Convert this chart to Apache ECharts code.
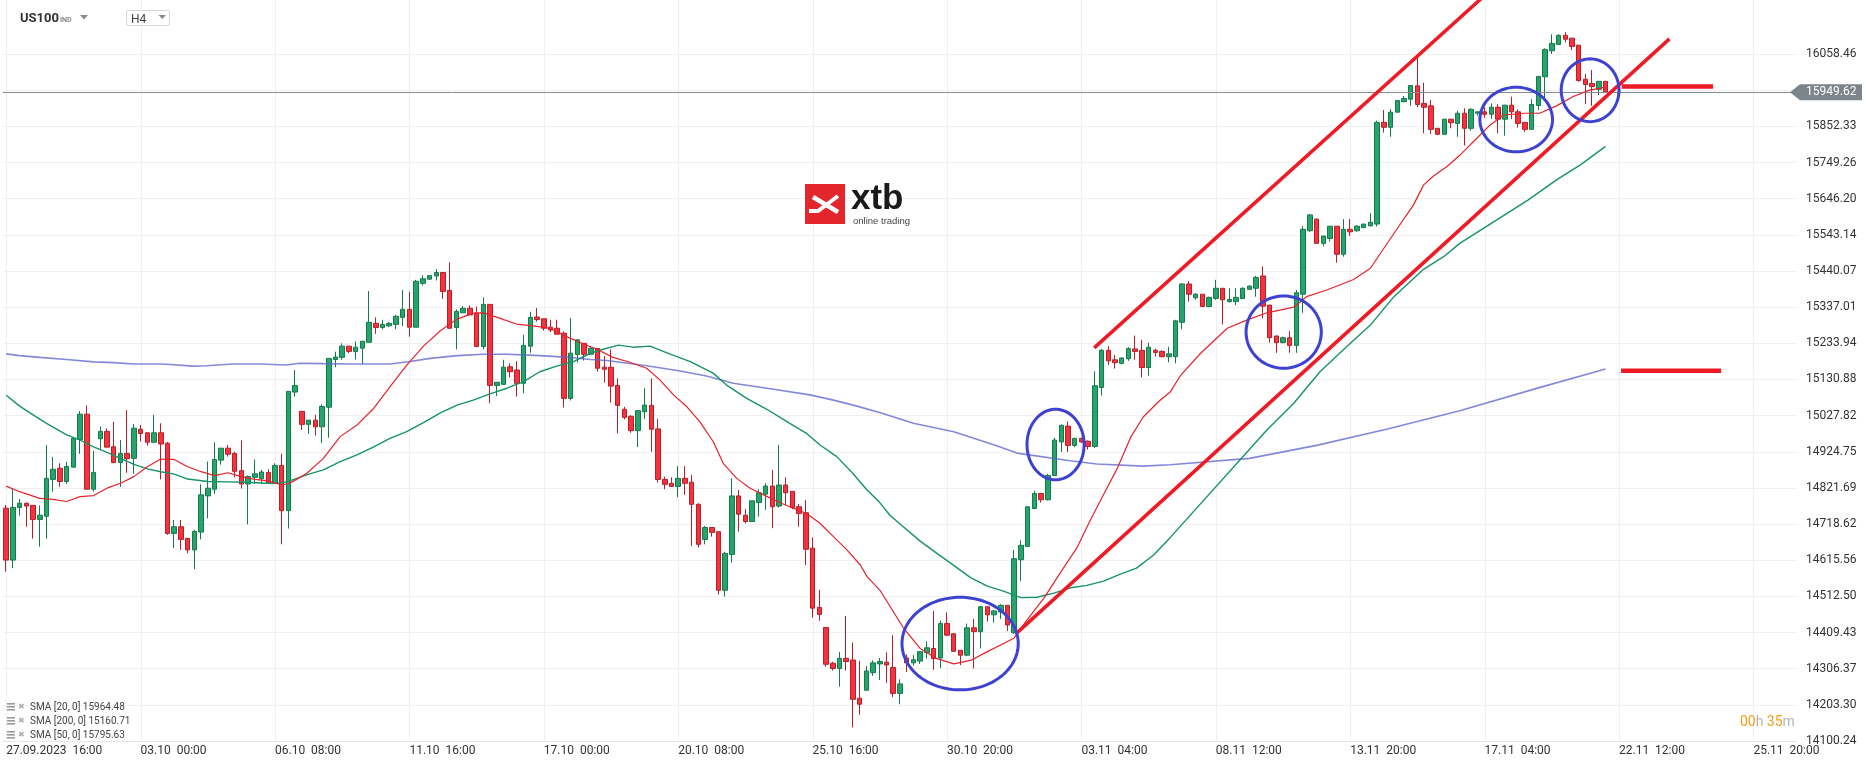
<!DOCTYPE html>
<html><head><meta charset="utf-8">
<script src="https://cdn.jsdelivr.net/npm/echarts@6/dist/echarts.min.js"></script>
<style>html,body{margin:0;padding:0;background:#fff;}#c{width:1866px;height:767px;}</style>
</head><body><div id="c"></div>
<script>
// ---------- DATA ----------
const xLabels = ['27.09.2023  16:00','03.10  00:00','06.10  08:00','11.10  16:00','17.10  00:00','20.10  08:00','25.10  16:00','30.10  20:00','03.11  04:00','08.11  12:00','13.11  20:00','17.11  04:00','22.11  12:00','25.11  20:00'];
const yTicks = [14100.24,14203.30,14306.37,14409.43,14512.50,14615.56,14718.62,14821.69,14924.75,15027.82,15130.88,15233.94,15337.01,15440.07,15543.14,15646.20,15749.26,15852.33,15955.39,16058.46];
const yLabelValues = [14100.24,14203.30,14306.37,14409.43,14512.50,14615.56,14718.62,14821.69,14924.75,15027.82,15130.88,15233.94,15337.01,15440.07,15543.14,15646.20,15749.26,15852.33,16058.46];
// [open, high, low, close], H4 candles
const candles = [
[14764,14773,14583,14616],[14616,14818,14593,14766],[14766,14790,14743,14778],[14778,14780,14711,14770],[14772,14772,14677,14732],
[14732,14772,14654,14744],[14741,14944,14677,14849],[14846,14910,14811,14875],[14878,14892,14825,14840],[14840,14896,14833,14883],
[14881,14963,14880,14963],[14960,15041,14919,15032],[15032,15057,14818,14818],[14818,14927,14811,14866],[14962,14997,14933,14983],
[14983,14991,14938,14938],[14939,15010,14892,14894],[14894,14958,14825,14920],[14920,15044,14865,14905],[14906,15004,14862,14992],
[14989,15001,14954,14977],[14979,14979,14942,14952],[14952,15030,14952,14979],[14979,15006,14846,14947],[14949,14953,14688,14692],
[14692,14730,14650,14711],[14711,14730,14645,14675],[14678,14678,14635,14645],[14645,14702,14590,14698],[14696,14832,14675,14802],
[14799,14897,14735,14821],[14818,14952,14805,14903],[14901,14935,14888,14935],[14935,14944,14911,14918],[14920,14925,14852,14869],
[14871,14957,14820,14833],[14833,14857,14718,14854],[14852,14903,14833,14862],[14848,14873,14833,14867],[14866,14875,14835,14835],
[14835,14892,14835,14886],[14886,14919,14661,14757],[14757,15097,14706,15097],[15095,15158,15082,15114],[15040,15040,14987,15003],
[15003,15015,14976,15015],[15015,15030,14971,14996],[14996,15060,14949,15054],[15052,15191,14965,15191],[15188,15210,15166,15195],
[15194,15234,15187,15226],[15226,15226,15206,15211],[15211,15239,15188,15223],[15220,15240,15175,15240],[15237,15383,15237,15294],
[15291,15308,15261,15279],[15279,15301,15274,15288],[15284,15295,15280,15291],[15288,15315,15274,15311],[15308,15386,15283,15331],
[15331,15381,15253,15280],[15280,15415,15280,15411],[15405,15428,15399,15418],[15417,15427,15415,15427],[15426,15446,15413,15436],
[15436,15436,15361,15382],[15385,15465,15277,15277],[15279,15331,15217,15325],[15321,15340,15321,15334],[15334,15342,15315,15315],
[15320,15339,15225,15225],[15225,15365,15217,15345],[15345,15345,15063,15114],[15114,15123,15084,15123],[15117,15187,15117,15166],
[15167,15177,15137,15153],[15158,15183,15082,15120],[15120,15258,15092,15228],[15226,15324,15207,15308],[15309,15335,15296,15302],
[15304,15304,15270,15277],[15280,15301,15266,15272],[15277,15301,15260,15260],[15263,15268,15051,15077],[15077,15306,15071,15206],
[15202,15246,15179,15244],[15234,15234,15185,15203],[15203,15225,15201,15220],[15219,15219,15153,15163],[15166,15198,15122,15160],
[15166,15217,15065,15112],[15114,15134,14977,15057],[15046,15053,15017,15023],[15026,15029,14979,14985],[14985,15042,14938,15042],
[15039,15106,15018,15058],[15057,15134,14925,14989],[14990,15018,14837,14846],[14846,14854,14818,14832],[14835,14852,14826,14826],
[14826,14884,14795,14849],[14849,14884,14802,14835],[14838,14859,14656,14775],[14775,14778,14652,14661],[14675,14713,14661,14709],
[14709,14709,14683,14695],[14697,14697,14518,14530],[14530,14640,14512,14635],[14632,14849,14609,14799],[14799,14816,14697,14747],
[14744,14762,14721,14726],[14726,14785,14726,14785],[14780,14818,14740,14808],[14804,14835,14759,14827],[14827,14873,14707,14768],
[14770,14944,14766,14830],[14830,14852,14773,14808],[14812,14812,14761,14766],[14768,14776,14711,14749],[14751,14787,14602,14647],
[14650,14681,14452,14479],[14481,14531,14443,14461],[14424,14424,14312,14319],[14322,14326,14301,14307],[14307,14354,14255,14336],
[14336,14457,14301,14327],[14331,14381,14139,14219],[14222,14329,14175,14205],[14245,14314,14245,14300],[14295,14330,14286,14323],
[14320,14337,14274,14327],[14325,14353,14266,14317],[14310,14402,14225,14236],[14236,14276,14205,14263],[14337,14347,14297,14323],
[14323,14345,14315,14332],[14328,14356,14320,14355],[14352,14384,14335,14366],[14364,14471,14303,14335],[14337,14443,14308,14435],
[14435,14467,14399,14402],[14406,14406,14355,14356],[14359,14359,14317,14345],[14345,14435,14342,14423],[14423,14448,14307,14412],
[14412,14485,14364,14483],[14483,14483,14441,14460],[14460,14473,14438,14471],[14468,14490,14448,14487],[14487,14487,14414,14431],
[14409,14645,14406,14620],[14617,14672,14556,14658],[14655,14768,14655,14768],[14763,14814,14761,14806],[14806,14806,14780,14788],
[14788,14862,14786,14857],[14857,14965,14857,14958],[14953,15003,14924,15000],[14998,15011,14924,14943],[14943,14965,14938,14963],
[14963,14965,14950,14953],[14955,14957,14931,14940],[14940,15154,14936,15113],[15108,15218,15085,15214],[15214,15226,15172,15184],
[15187,15201,15162,15179],[15177,15194,15174,15192],[15190,15223,15184,15219],[15218,15256,15187,15211],[15214,15244,15137,15165],
[15165,15236,15142,15223],[15214,15219,15196,15208],[15211,15214,15194,15196],[15196,15224,15180,15204],[15196,15301,15177,15298],
[15294,15405,15274,15403],[15403,15412,15353,15374],[15364,15377,15358,15374],[15374,15374,15337,15339],[15339,15367,15337,15365],
[15362,15415,15358,15391],[15391,15391,15288,15358],[15353,15391,15350,15359],[15353,15391,15343,15365],[15362,15393,15360,15391],
[15388,15400,15386,15397],[15391,15426,15367,15422],[15426,15453,15305,15340],[15343,15343,15236,15250],[15255,15255,15207,15236],
[15236,15253,15234,15250],[15250,15269,15207,15228],[15228,15386,15207,15378],[15374,15568,15321,15559],[15555,15603,15552,15600],
[15588,15590,15519,15519],[15519,15540,15510,15540],[15533,15568,15524,15568],[15568,15568,15464,15488],[15488,15588,15481,15559],
[15559,15588,15540,15552],[15555,15571,15552,15568],[15564,15574,15562,15574],[15569,15605,15567,15579],[15574,15869,15567,15864],
[15864,15899,15835,15850],[15850,15902,15823,15893],[15893,15928,15893,15926],[15923,15939,15921,15932],[15930,15970,15911,15969],
[15968,16050,15907,15915],[15918,15977,15833,15907],[15911,15928,15831,15844],[15847,15847,15828,15830],[15830,15873,15830,15873],
[15873,15873,15847,15863],[15861,15897,15823,15890],[15890,15904,15798,15847],[15847,15904,15840,15901],[15890,15894,15883,15894],
[15894,15907,15877,15887],[15887,15918,15874,15907],[15907,15916,15833,15873],[15873,15914,15826,15913],[15913,15937,15873,15894],
[15894,15901,15849,15861],[15864,15864,15837,15844],[15844,15930,15844,15915],[15912,15995,15899,15995],[15994,16075,15930,16072],
[16068,16115,16059,16089],[16086,16115,16086,16112],[16112,16121,16092,16101],[16104,16104,16070,16080],[16084,16084,15980,15983],
[15987,16002,15916,15972],[15975,16013,15911,15966],[15958,15981,15942,15981],[15981,15981,15949.62,15949.62]
];
// moving averages: [candle position, value]
const sma20 = [[0,14827],[2,14811],[5,14792],[7,14789],[9,14783],[11,14797],[13,14800],[15,14821],[17,14835],[19,14854],[21,14882],[23,14904],[25,14903],[27,14882],[29,14868],[31,14857],[33,14865],[35,14854],[37,14846],[39,14842],[41,14830],[42.2,14835],[43,14844],[44.7,14863],[47.2,14906],[49.7,14968],[52.2,15001],[54.7,15049],[57.1,15110],[59.6,15172],[62.1,15226],[64.6,15270],[67.1,15303],[69.5,15320],[71,15321],[73.5,15305],[75.9,15289],[78.4,15284],[80.9,15277],[83.4,15253],[85.9,15232],[87.9,15217],[90.3,15194],[92.8,15180],[95.3,15163],[97.3,15129],[99.3,15087],[101.3,15053],[103.2,15011],[105.2,14954],[106.7,14892],[108.7,14849],[110.7,14821],[112.7,14802],[115.1,14780],[117.1,14764],[119.1,14749],[121.1,14721],[123.1,14683],[125.1,14645],[127.1,14602],[128.1,14569],[130.1,14528],[131,14500],[133.5,14423],[136,14364],[138.5,14335],[141,14320],[143.5,14330],[146,14355],[148.5,14379],[150,14394],[152,14448],[154.4,14507],[156.9,14581],[159.3,14650],[161.3,14729],[163.3,14803],[165.3,14876],[167.3,14965],[169.2,15024],[171.5,15068],[173.2,15095],[174.7,15141],[177.7,15205],[181.7,15277],[184.6,15300],[187.6,15321],[191.6,15337],[193.5,15367],[196.5,15386],[200.5,15416],[203,15448],[206.5,15547],[209.4,15628],[210.9,15685],[212.4,15711],[214.4,15738],[216.3,15770],[218.8,15818],[220.8,15856],[222.8,15885],[225.8,15890],[228.2,15890],[230.7,15911],[233.1,15937],[235.6,15956],[238,15964.48]];
const sma50 = [[0,15086],[2,15055],[4,15030],[6,15006],[9,14973],[11,14958],[13,14939],[15,14923],[17,14906],[19,14889],[21,14876],[23,14868],[25,14861],[27,14847],[30,14840],[33,14839],[35.8,14838],[38.8,14835],[40.7,14835],[42.2,14842],[44.7,14859],[47.2,14873],[49.7,14897],[52.2,14916],[54.7,14939],[57.1,14963],[59.6,14982],[62.1,15008],[64.6,15036],[67.1,15058],[69.5,15072],[72,15090],[74.5,15106],[77,15125],[79.4,15153],[81.9,15169],[84.4,15182],[86.9,15205],[88.4,15215],[91.1,15229],[93.3,15223],[95.8,15226],[98.8,15203],[101.8,15182],[105.2,15149],[107.2,15115],[110.2,15077],[113.2,15046],[116.6,15006],[119.1,14977],[121.1,14944],[123.6,14911],[126,14863],[128,14818],[130,14780],[131.5,14744],[133.5,14711],[136,14670],[138.5,14635],[141,14601],[143.5,14566],[146,14542],[148.5,14527],[151,14509],[153.4,14510],[155.9,14522],[158.4,14537],[160.8,14544],[163.3,14556],[165.8,14576],[168.2,14593],[170.7,14630],[173.2,14680],[187.6,14987],[191.6,15063],[195.5,15153],[199.5,15225],[203,15286],[206.5,15367],[210.9,15445],[213.9,15481],[216.3,15519],[226.5,15643],[230.7,15700],[234.2,15742],[238,15795.63]];
const sma200 = [[0,15204],[2,15199],[5,15194],[9,15188],[13,15181],[16,15179],[19,15175],[23,15175],[25,15173],[27.8,15169],[29.8,15170],[33.8,15175],[37.8,15175],[41.7,15172],[43.7,15177],[47.2,15176],[51.2,15175],[57.1,15175],[60.1,15182],[63.1,15191],[67.1,15199],[71,15203],[74.5,15203],[77,15201],[79.4,15199],[81.9,15196],[84.4,15193],[86.9,15188],[89.4,15185],[95.3,15170],[100.3,15155],[104.2,15141],[108.2,15120],[114.2,15103],[119.6,15087],[123.1,15072],[126.6,15055],[130.1,15036],[135,15006],[141,14982],[147.4,14942],[150.4,14921],[158.3,14899],[162.3,14890],[169.2,14884],[173.2,14888],[185,14906],[195,14943],[205.4,14989],[216.3,15042],[228,15107],[238,15160.71]];
// drawn annotations in chart units: [candle position, price]
const channelUpper = [[161.9,15221],[221,16243]];
const channelLower = [[150.2,14405],[247.5,16102]];
const levelTop = [[240.4,15966],[254.0,15966]];
const levelBottom = [[240.3,15156],[255.2,15156]];
// ellipses: [from candle, to candle, low price, high price]
const ellipses = [[133.3,150.6,14246,14510],[151.9,160.4,14845,15046],[184.5,195.7,15163,15369],[219.3,230.1,15780,15964],[231.4,240.0,15866,16045]];
const lastPrice = 15949.62;
const smaLegend = [['SMA [20, 0]','15964.48'],['SMA [200, 0]','15160.71'],['SMA [50, 0]','15795.63']];
const N_CAT = 267;

// ---------- CHART ----------
const FONT = 'Roboto';
const cats = Array.from({length: N_CAT}, (_, i) => String(i));
const kData = candles.map(([o,h,l,c]) => [o, c, Math.min(l,o,c), Math.max(h,o,c)]);
const lineS = (data, color, width, z, opacity) => ({
  type:'line', xAxisIndex:1, yAxisIndex:0, data, symbol:'none', showSymbol:false, silent:true, z,
  lineStyle:{color, width, opacity: opacity==null?1:opacity}, emphasis:{disabled:true}, animation:false
});
const chart = echarts.init(document.getElementById('c'), null, {renderer:'canvas', width:1866, height:767});
const option = {
  animation:false,
  backgroundColor:'#ffffff',
  grid:{left:2.84, right:68.9, top:0, bottom:26, containLabel:false, outerBoundsMode:'none'},
  xAxis:[
    {type:'category', data:cats, boundaryGap:true,
     axisLine:{show:true, lineStyle:{color:'#e6e6e6', width:1}}, axisTick:{show:false}, splitLine:{show:false},
     axisLabel:{interval:(i)=> i%20===0, formatter:(v,i)=> xLabels[i/20]||'', align:'left', color:'#333', fontSize:12, fontFamily:FONT, margin:4}},
    {type:'value', min:-0.5, max:N_CAT-0.5, show:false}
  ],
  yAxis:[{type:'value', position:'right', min:14100.24, max:16212.8,
    axisLine:{show:false}, axisTick:{show:false, customValues:yTicks},
    splitLine:{show:true, lineStyle:{color:'#f0f0f0', width:1}},
    axisLabel:{customValues:yLabelValues, formatter:(v)=> Number(v).toFixed(2), color:'#333', fontSize:12, fontFamily:FONT, margin:9, showMinLabel:true, showMaxLabel:true}}],
  series:[
    {type:'candlestick', xAxisIndex:0, yAxisIndex:0, data:kData, barWidth:5, z:3, silent:true,
     itemStyle:{color:'#27a46b', color0:'#f7323f', borderColor:'#137a4a', borderColor0:'#b41f2a', borderWidth:1},
     emphasis:{disabled:true},
     markLine:{silent:true, symbol:'none', animation:false, label:{show:false},
       lineStyle:{color:'#828b91', width:1, type:'solid'}, data:[{yAxis:lastPrice}]}},
    lineS(sma200, '#5a62cc', 1.6, 4, 0.75),
    lineS(sma50, '#16936a', 1.4, 5),
    lineS(sma20, '#e5232a', 1.2, 6),
    lineS(channelUpper, '#ee1b24', 3.5, 8),
    lineS(channelLower, '#ee1b24', 3.5, 8),
    lineS(levelTop, '#ee1b24', 4.5, 8),
    lineS(levelBottom, '#ee1b24', 4.5, 8)
  ]
};
chart.setOption(option);

const px = (i, p) => chart.convertToPixel({xAxisIndex:1, yAxisIndex:0}, [i, p]);
const g = [];
// vertical grid lines at labelled candles
xLabels.forEach((_, k) => {
  const x = Math.round(px(k*20, 14100.24)[0]) + 0.5;
  g.push({type:'line', z:0, silent:true, shape:{x1:x, y1:0, x2:x, y2:741}, style:{stroke:'#f0f0f0', lineWidth:1}});
});
// ellipses
ellipses.forEach(([i1,i2,pl,ph]) => {
  const a = px(i1, ph), b = px(i2, pl);
  const cx = (a[0]+b[0])/2, cy = (a[1]+b[1])/2, rx = Math.abs(b[0]-a[0])/2, ry = Math.abs(b[1]-a[1])/2;
  const pts = [];
  for (let k = 0; k < 96; k++) { const t = k/96*Math.PI*2; pts.push([cx+rx*Math.cos(t), cy+ry*Math.sin(t)]); }
  g.push({type:'polygon', z:20, silent:true, shape:{points:pts}, style:{fill:'none', stroke:'#3d42d0', lineWidth:3}});
});
// last price tag
const yc = px(0, lastPrice)[1];
g.push({type:'polygon', z:30, silent:true, shape:{points:[[1790,yc],[1800,yc-8],[1862,yc-8],[1862,yc+8],[1800,yc+8]]}, style:{fill:'#7b858b'}});
g.push({type:'text', z:31, silent:true, x:1806, y:yc, style:{text:lastPrice.toFixed(2), fill:'#ffffff', font:'12px '+FONT, verticalAlign:'middle', align:'left'}});
// header
g.push({type:'text', z:30, x:20, y:19, style:{text:'US100', fill:'#333', font:'bold 13px '+FONT, verticalAlign:'middle'}});
g.push({type:'text', z:30, x:60, y:20, style:{text:'IND', fill:'#8a8a8a', font:'bold 7px '+FONT, verticalAlign:'middle'}});
g.push({type:'polygon', z:30, shape:{points:[[80,15],[88,15],[84,19.5]]}, style:{fill:'#8a8a8a'}});
g.push({type:'rect', z:30, shape:{x:126.5, y:10.5, width:43, height:15, r:2}, style:{fill:'#fff', stroke:'#d6d6d6', lineWidth:1}});
g.push({type:'text', z:31, x:131, y:19.5, style:{text:'H4', fill:'#444', font:'12px '+FONT, verticalAlign:'middle'}});
g.push({type:'polygon', z:31, shape:{points:[[158.5,15],[166,15],[162.2,19]]}, style:{fill:'#8a8a8a'}});
// logo
g.push({type:'rect', z:15, shape:{x:805, y:184, width:40, height:40}, style:{fill:'#e3262b'}});
g.push({type:'polyline', z:16, shape:{points:[[813,197],[838,212]]}, style:{stroke:'#fff', lineWidth:4.5, fill:'none'}});
g.push({type:'polyline', z:16, shape:{points:[[838,196],[818,211],[809,211]]}, style:{stroke:'#fff', lineWidth:4, fill:'none'}});
g.push({type:'text', z:16, x:851, y:199, style:{text:'xtb', fill:'#1a1a1a', font:'bold 35px "Liberation Sans"', verticalAlign:'middle', align:'left'}});
g.push({type:'text', z:16, x:853, y:221, style:{text:'online trading', fill:'#444', font:'9.5px "Liberation Sans"', verticalAlign:'middle', align:'left'}});
// SMA legend
smaLegend.forEach(([name, val], k) => {
  const y = 707 + k*14;
  [0,3,6].forEach(d => g.push({type:'rect', z:30, shape:{x:7, y:y-4+d*1.0, width:8, height:1.6}, style:{fill:'#9a9a9a'}}));
  g.push({type:'text', z:30, x:18, y:y, style:{text:'✖', fill:'#b0b0b0', font:'8px "DejaVu Sans"', verticalAlign:'middle'}});
  g.push({type:'text', z:30, x:30, y:y, style:{text:name+' '+val, fill:'#444', font:'10px '+FONT, verticalAlign:'middle'}});
});
// countdown
g.push({type:'text', z:30, x:1740, y:722, style:{
  text:'{o|00}{g|h} {o|35}{g|m}', verticalAlign:'middle',
  rich:{o:{fill:'#f39c12', font:'14px '+FONT}, g:{fill:'#b5b5b5', font:'14px '+FONT}}}});
chart.setOption({graphic: g});
</script>
</body></html>
